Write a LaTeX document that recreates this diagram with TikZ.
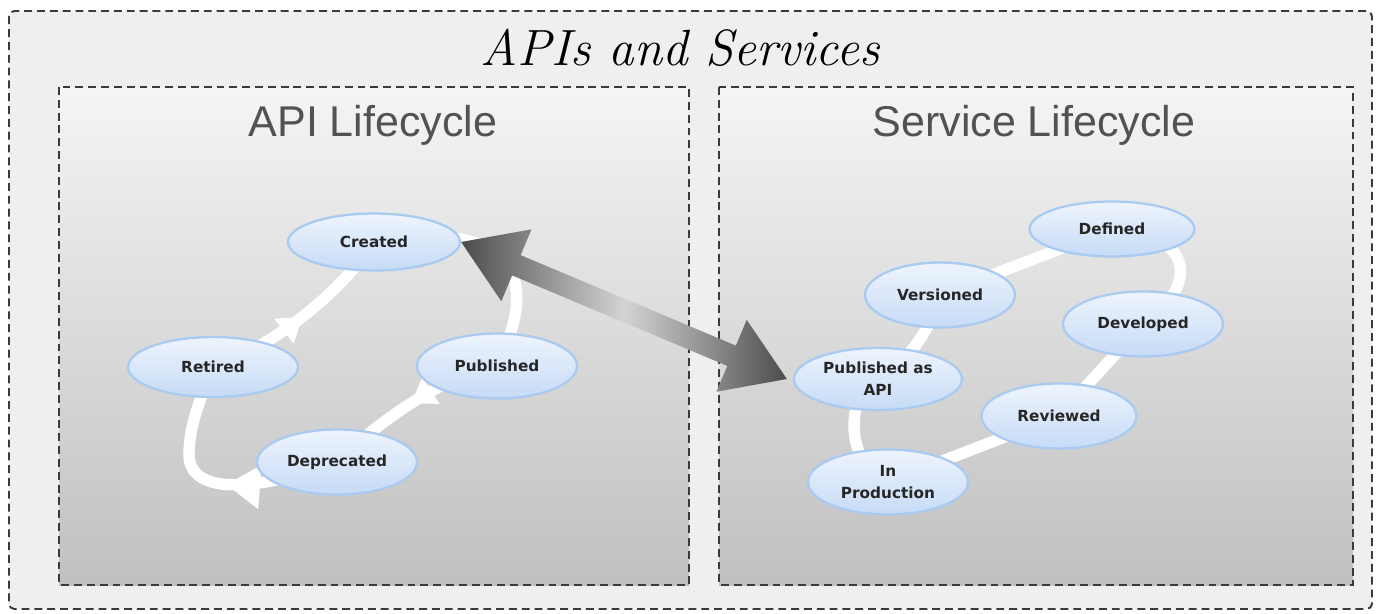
\documentclass[tikz,border=0pt]{standalone}
\usepackage{fontspec}
\usetikzlibrary{shapes.geometric,calc,arrows.meta,decorations.markings}
\newfontfamily\statefont{DejaVu Sans}
\newfontfamily\headfont{Liberation Sans}
\definecolor{outerfill}{HTML}{EFEFEF}
\definecolor{panetop}{HTML}{F5F5F5}
\definecolor{panebot}{HTML}{C0C0C0}
\definecolor{dashgray}{HTML}{3A3A3A}
\definecolor{stateline}{HTML}{A9CAF1}
\definecolor{statetop}{HTML}{EEF4FD}
\definecolor{statebot}{HTML}{C6DBF6}
\pgfdeclarelayer{bg}
\pgfdeclarelayer{loops}
\pgfsetlayers{bg,loops,main}

\begin{document}
\begin{tikzpicture}[x=0.02cm,y=0.02cm,
	frame/.style={draw=dashgray,line width=1.1pt,dash pattern=on 4.5pt off 2.8pt},
	state/.style={ellipse,draw=stateline,line width=1.3pt,top color=statetop,bottom color=statebot,
		minimum width=3.2cm,minimum height=1.3cm,inner sep=0pt,align=center,text=black!85,
		font=\statefont\bfseries\fontsize{8.7}{12.5}\selectfont},
	band/.style={draw=white,line width=6.5pt},
	bandarrow/.style 2 args={band,postaction={decorate},
		decoration={markings,mark=at position #1 with {\arrow[white]{Triangle[width=#2,length=0.8*#2]}}}}
	]
	\useasboundingbox (0,0) rectangle (1380,-613);

	% frames
	\begin{pgfonlayer}{bg}
		\fill[white] (0,0) rectangle (1380,-613);
		\draw[frame,fill=outerfill,rounded corners=3pt] (9,-11) rectangle (1372,-609);
		\shade[frame,top color=panetop,bottom color=panebot] (59,-87) rectangle (689,-585);
		\shade[frame,top color=panetop,bottom color=panebot] (719,-87) rectangle (1353,-585);
	\end{pgfonlayer}

	\node (title) at (680,-48) {\fontsize{29}{32}\selectfont\itshape APIs and Services};
	\node[text=black!68] (apititle) at (373,-125) {\headfont\fontsize{24.5}{28}\selectfont API Lifecycle};
	\node[text=black!68] (svctitle) at (1034,-125) {\headfont\fontsize{24.5}{28}\selectfont Service Lifecycle};

	% API lifecycle
	\node[state,minimum width=3.44cm,minimum height=1.14cm] (created) at (374,-242) {Created};
	\node[state] (published) at (497,-366) {Published};
	\node[state] (deprecated) at (337,-462) {Deprecated};
	\node[state,minimum width=3.4cm,minimum height=1.2cm] (retired) at (213,-367) {Retired};

	% service lifecycle
	\node[state,minimum width=3.3cm,minimum height=1.1cm] (defined) at (1112,-229) {Defined};
	\node[state,minimum width=3.0cm] (versioned) at (940,-295) {Versioned};
	\node[state] (developed) at (1143,-324) {Developed};
	\node[state,minimum width=3.36cm,minimum height=1.24cm] (pubapi) at (878,-379) {Published as\\API};
	\node[state,minimum width=3.1cm] (reviewed) at (1059,-416) {Reviewed};
	\node[state] (inprod) at (888,-482) {In\\Production};

	\begin{pgfonlayer}{loops}
		\draw[band] (created.center) .. controls (540,-215) and (530,-300) .. (published.center);
		\draw[bandarrow={0.5}{17pt}] (published.center) .. controls (445,-375) and (380,-420) .. (deprecated.center);
		\draw[bandarrow={0.44}{24pt}] (deprecated.center) .. controls (255,-492) and (190,-495) .. (189,-455)
			.. controls (189,-425) and (200,-400) .. (retired.center);
		\draw[bandarrow={0.5}{17pt}] (retired.center) .. controls (265,-350) and (335,-300) .. (created.center);

		\draw[band] (defined.center) .. controls (1200,-235) and (1195,-290) .. (developed.center);
		\draw[band] (developed.center) -- (reviewed.center);
		\draw[band] (reviewed.center) -- (inprod.center);
		\draw[band] (inprod.center) .. controls (850,-470) and (840,-400) .. (pubapi.center);
		\draw[band] (pubapi.center) .. controls (910,-360) and (930,-330) .. (versioned.center);
		\draw[band] (versioned.center) -- (defined.center);
	\end{pgfonlayer}

	% double arrow between the two cycles
	\coordinate (tipa) at (created.east);
	\coordinate (tipb) at ($(pubapi.west)+(-6,0)$);
	\coordinate (basea) at ($(tipa)!1.2cm!(tipb)$);
	\coordinate (baseb) at ($(tipb)!1.2cm!(tipa)$);
	\shade[left color=black!70,right color=black!70,middle color=black!17]
		(tipa) -- ($(basea)!0.78cm!90:(tipb)$) -- ($(basea)!0.22cm!90:(tipb)$)
		-- ($(baseb)!0.22cm!-90:(tipa)$) -- ($(baseb)!0.78cm!-90:(tipa)$) -- (tipb)
		-- ($(baseb)!0.78cm!90:(tipa)$) -- ($(baseb)!0.22cm!90:(tipa)$)
		-- ($(basea)!0.22cm!-90:(tipb)$) -- ($(basea)!0.78cm!-90:(tipb)$) -- cycle;
\end{tikzpicture}
\end{document}
